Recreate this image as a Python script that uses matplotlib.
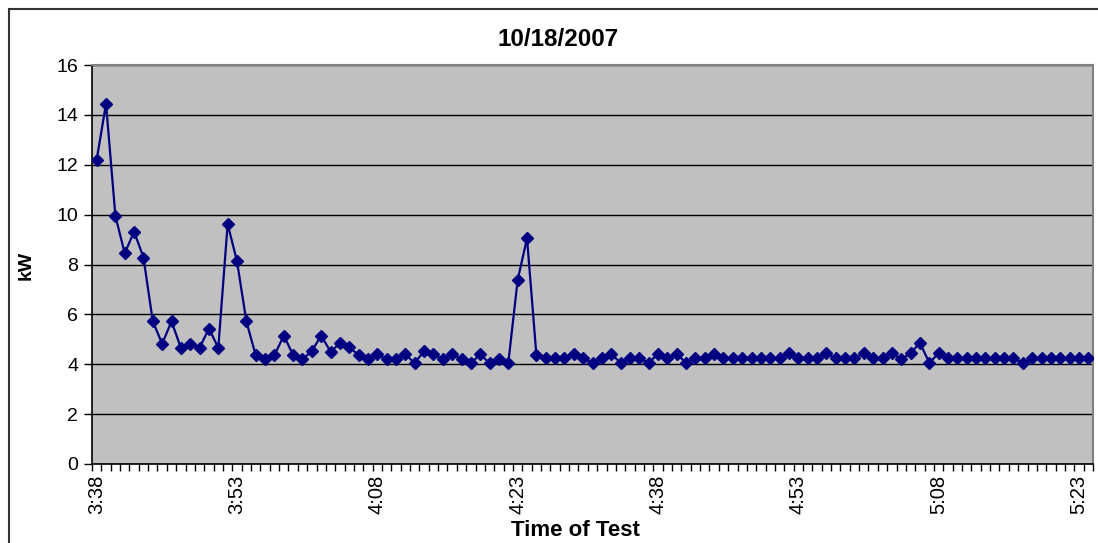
import numpy as np
import pandas as pd
import matplotlib
matplotlib.use("Agg")
import matplotlib.pyplot as plt
from matplotlib.lines import Line2D

# one reading per minute, 3:38 -> 5:24
start_time = "15:38"
kw = [
    12.2, 14.45, 9.95, 8.45, 9.32, 8.28, 5.72, 4.82, 5.72, 4.66,
    4.82, 4.66, 5.43, 4.66, 9.62, 8.13, 5.72, 4.36, 4.22, 4.36,
    5.15, 4.37, 4.2, 4.53, 5.15, 4.5, 4.84, 4.68, 4.37, 4.2,
    4.4, 4.2, 4.2, 4.4, 4.04, 4.54, 4.4, 4.2, 4.4, 4.2,
    4.04, 4.4, 4.04, 4.22, 4.05, 7.38, 9.05, 4.38, 4.24, 4.24,
    4.24, 4.41, 4.24, 4.05, 4.24, 4.41, 4.06, 4.24, 4.24, 4.06,
    4.41, 4.24, 4.41, 4.06, 4.24, 4.24, 4.41, 4.24, 4.24, 4.24,
    4.24, 4.24, 4.24, 4.24, 4.44, 4.24, 4.24, 4.24, 4.44, 4.24,
    4.24, 4.24, 4.44, 4.24, 4.24, 4.44, 4.2, 4.44, 4.86, 4.06,
    4.44, 4.24, 4.24, 4.24, 4.24, 4.24, 4.24, 4.24, 4.24, 4.06,
    4.24, 4.24, 4.24, 4.24, 4.24, 4.24, 4.24,
]
label_every = 15
y_ticks = [0, 2, 4, 6, 8, 10, 12, 14, 16]

times = pd.date_range(start_time, periods=len(kw), freq="min")
labels = [f"{t.hour - 12}:{t.minute:02d}" for t in times]
x = np.arange(len(kw))

plt.rcParams["font.family"] = ["Liberation Sans", "DejaVu Sans"]

W, H = 1098, 543
fig = plt.figure(figsize=(W / 100, H / 100), dpi=100)
ax = fig.add_axes([92 / W, 1 - 464 / H, 1001 / W, 399 / H])
ax.set_facecolor("#C0C0C0")

ax.plot(x, kw, color="#000080", linewidth=1.6, marker="D",
        markersize=6.2, markerfacecolor="#000080", markeredgecolor="#000080",
        zorder=3)

ax.set_xlim(-0.5, len(kw) - 0.5)
ax.set_ylim(0, 16)
ax.set_yticks(y_ticks)
ax.yaxis.grid(True, color="black", linewidth=1)
ax.set_axisbelow(True)

# category boundaries get tick marks, every 15th category gets a label
ax.set_xticks(np.arange(len(kw) + 1) - 0.5, minor=True)
ax.set_xticks(x[::label_every])
ax.set_xticklabels(labels[::label_every], rotation=90, fontsize=14.5)
ax.tick_params(axis="x", which="major", length=0, pad=8)
ax.tick_params(axis="x", which="minor", length=5, width=1, direction="out")
ax.tick_params(axis="y", length=6, width=1, labelsize=14, pad=4)

for side in ["top", "right"]:
    ax.spines[side].set_color("#808080")
    ax.spines[side].set_linewidth(1.5)
for side in ["left", "bottom"]:
    ax.spines[side].set_color("black")
    ax.spines[side].set_linewidth(1.2)

fig.text(558 / W, 1 - 39 / H, "10/18/2007", ha="center", va="center",
         fontsize=17.5, fontweight="bold")
fig.text(26 / W, 1 - 265 / H, "kW", ha="center", va="center",
         rotation=90, fontsize=14, fontweight="bold")
fig.text(575 / W, 1 - 531 / H, "Time of Test", ha="center", va="center",
         fontsize=16, fontweight="bold")

# chart area border (top and left edges are visible)
fig.add_artist(Line2D([9 / W, 1], [1 - 9 / H, 1 - 9 / H],
                      transform=fig.transFigure, color="#333333", linewidth=1.5))
fig.add_artist(Line2D([9 / W, 9 / W], [0, 1 - 9 / H],
                      transform=fig.transFigure, color="#333333", linewidth=1.5))

fig.savefig("out.png", dpi=100)
